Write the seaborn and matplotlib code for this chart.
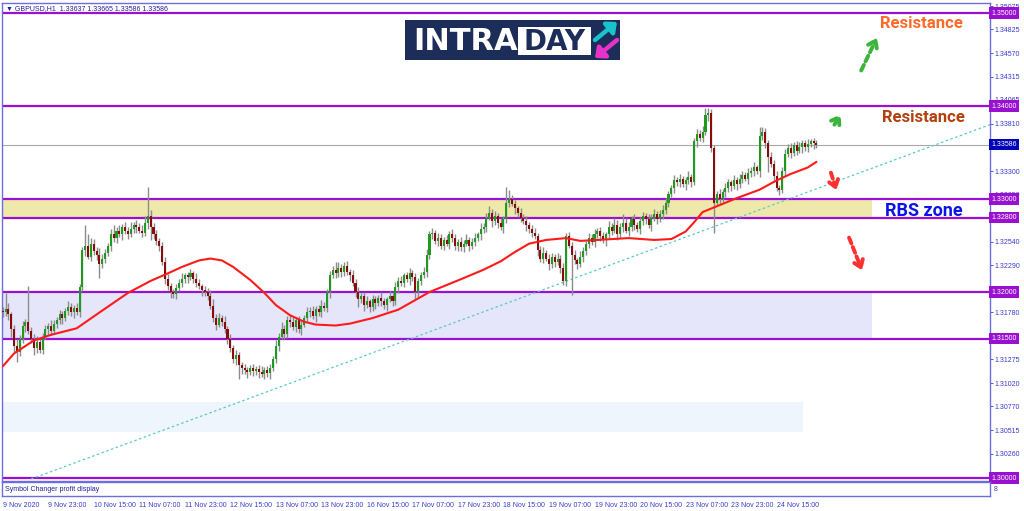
import numpy as np
import pandas as pd
import seaborn as sns
import matplotlib
matplotlib.use("Agg")
import matplotlib.pyplot as plt
import matplotlib.transforms as mtransforms
from matplotlib.patches import Rectangle

# ---------------- data (GBPUSD H1, 9 Nov 07:00 -> 25 Nov 05:00) ----------------
first_open = 1.3180
closes = [
    1.3178, 1.3182, 1.3176, 1.3160, 1.3142, 1.3135, 1.3150, 1.3163, 1.3168, 1.3158, 1.3150, 1.3140, 1.3146, 1.3138, 1.3152, 1.3160, 1.3164, 1.3158, 1.3166, 1.3170,
    1.3176, 1.3172, 1.3180, 1.3184, 1.3178, 1.3183, 1.3178, 1.3205, 1.3245, 1.3250, 1.3238, 1.3252, 1.3244, 1.3240, 1.3230, 1.3236, 1.3242, 1.3250, 1.3262, 1.3258,
    1.3266, 1.3262, 1.3270, 1.3266, 1.3262, 1.3268, 1.3272, 1.3270, 1.3266, 1.3264, 1.3274, 1.3282, 1.3270, 1.3262, 1.3255, 1.3250, 1.3232, 1.3214, 1.3206, 1.3200,
    1.3198, 1.3204, 1.3210, 1.3214, 1.3218, 1.3216, 1.3220, 1.3214, 1.3210, 1.3206, 1.3202, 1.3200, 1.3196, 1.3185, 1.3172, 1.3165, 1.3172, 1.3168, 1.3160, 1.3150,
    1.3140, 1.3128, 1.3132, 1.3122, 1.3118, 1.3116, 1.3114, 1.3118, 1.3115, 1.3117, 1.3114, 1.3112, 1.3116, 1.3113, 1.3118, 1.3128, 1.3142, 1.3152, 1.3160, 1.3155,
    1.3170, 1.3168, 1.3162, 1.3170, 1.3160, 1.3165, 1.3172, 1.3178, 1.3180, 1.3174, 1.3182, 1.3178, 1.3185, 1.3183, 1.3200, 1.3218, 1.3224, 1.3220, 1.3226, 1.3222,
    1.3228, 1.3222, 1.3218, 1.3210, 1.3200, 1.3192, 1.3196, 1.3186, 1.3190, 1.3184, 1.3192, 1.3188, 1.3194, 1.3190, 1.3186, 1.3192, 1.3196, 1.3190, 1.3205, 1.3212,
    1.3210, 1.3218, 1.3214, 1.3220, 1.3216, 1.3200, 1.3212, 1.3218, 1.3222, 1.3240, 1.3262, 1.3264, 1.3255, 1.3258, 1.3250, 1.3256, 1.3252, 1.3262, 1.3258, 1.3250,
    1.3254, 1.3248, 1.3252, 1.3256, 1.3250, 1.3254, 1.3258, 1.3262, 1.3268, 1.3270, 1.3280, 1.3285, 1.3276, 1.3282, 1.3274, 1.3270, 1.3278, 1.3296, 1.3300, 1.3295,
    1.3290, 1.3285, 1.3280, 1.3276, 1.3272, 1.3268, 1.3264, 1.3260, 1.3245, 1.3236, 1.3242, 1.3236, 1.3230, 1.3238, 1.3232, 1.3236, 1.3226, 1.3212, 1.3260, 1.3250,
    1.3240, 1.3234, 1.3230, 1.3238, 1.3244, 1.3252, 1.3258, 1.3254, 1.3262, 1.3266, 1.3260, 1.3256, 1.3262, 1.3270, 1.3266, 1.3272, 1.3262, 1.3270, 1.3274, 1.3266,
    1.3270, 1.3278, 1.3272, 1.3268, 1.3276, 1.3282, 1.3278, 1.3272, 1.3280, 1.3284, 1.3278, 1.3284, 1.3288, 1.3296, 1.3305, 1.3312, 1.3320, 1.3318, 1.3322, 1.3316,
    1.3320, 1.3324, 1.3318, 1.3362, 1.3370, 1.3366, 1.3372, 1.3390, 1.3392, 1.3355, 1.3296, 1.3305, 1.3300, 1.3308, 1.3312, 1.3318, 1.3314, 1.3320, 1.3316, 1.3322,
    1.3326, 1.3322, 1.3328, 1.3330, 1.3334, 1.3330, 1.3368, 1.3372, 1.3360, 1.3345, 1.3338, 1.3325, 1.3312, 1.3310, 1.3330, 1.3348, 1.3355, 1.3350, 1.3358, 1.3352,
    1.3356, 1.3360, 1.3356, 1.3359, 1.3362, 1.3360, 1.33586,
]
# wick lengths above / below the body, in pips
wick_up_pips = [
    4, 17, 6, 3, 5, 8, 4, 6, 3, 38, 4, 5, 7, 3, 4, 5, 3, 6, 4, 3,
    5, 4, 3, 6, 4, 3, 5, 4, 3, 22, 12, 6, 5, 4, 7, 5, 4, 3, 6, 10,
    4, 6, 3, 5, 4, 7, 3, 5, 4, 6, 8, 31, 6, 4, 5, 3, 4, 6, 5, 4,
    3, 5, 4, 6, 3, 4, 5, 3, 6, 4, 3, 5, 4, 6, 8, 4, 5, 3, 6, 4,
    5, 3, 6, 4, 3, 5, 3, 4, 5, 3, 4, 6, 3, 4, 5, 3, 6, 4, 8, 5,
    4, 5, 6, 3, 4, 5, 3, 6, 4, 5, 3, 4, 6, 4, 3, 5, 4, 8, 6, 4,
    4, 5, 3, 6, 4, 5, 3, 4, 6, 3, 5, 4, 3, 6, 4, 3, 5, 4, 6, 4,
    5, 3, 4, 6, 4, 5, 3, 4, 5, 6, 4, 5, 3, 6, 4, 3, 5, 4, 6, 4,
    3, 5, 4, 6, 3, 4, 5, 3, 6, 4, 5, 8, 4, 5, 3, 6, 4, 17, 10, 4,
    4, 3, 5, 4, 6, 3, 4, 5, 3, 4, 6, 3, 5, 4, 3, 6, 4, 5, 3, 5,
    4, 5, 3, 6, 4, 3, 5, 4, 6, 3, 4, 5, 3, 6, 4, 8, 5, 4, 10, 6,
    5, 4, 6, 3, 5, 4, 3, 6, 4, 5, 3, 4, 6, 5, 4, 3, 6, 4, 5, 3,
    4, 6, 3, 4, 5, 4, 6, 8, 6, 5, 3, 4, 6, 3, 5, 4, 3, 6, 4, 5,
    4, 3, 5, 4, 6, 3, 9, 5, 4, 3, 6, 4, 5, 3, 4, 6, 4, 5, 3, 4,
    5, 3, 4, 6, 3, 4, 3,
]
wick_dn_pips = [
    5, 4, 6, 8, 6, 10, 4, 5, 6, 3, 5, 8, 6, 4, 5, 3, 6, 4, 3, 5,
    4, 6, 3, 5, 4, 6, 3, 5, 4, 6, 3, 5, 4, 6, 15, 4, 5, 3, 6, 4,
    5, 3, 6, 4, 5, 3, 4, 6, 3, 5, 4, 6, 14, 5, 4, 6, 3, 5, 4, 6,
    4, 6, 3, 5, 4, 6, 3, 4, 5, 3, 6, 4, 5, 3, 4, 6, 3, 5, 4, 6,
    5, 4, 6, 16, 6, 4, 6, 3, 5, 4, 6, 3, 5, 4, 6, 3, 4, 5, 3, 6,
    4, 6, 3, 5, 4, 6, 3, 4, 5, 3, 6, 4, 5, 3, 4, 6, 3, 5, 4, 6,
    5, 4, 6, 3, 5, 8, 4, 6, 3, 5, 4, 6, 3, 5, 4, 6, 3, 5, 4, 6,
    4, 5, 3, 6, 4, 8, 5, 4, 3, 6, 4, 5, 3, 6, 4, 5, 3, 6, 4, 5,
    6, 4, 5, 3, 6, 4, 5, 3, 6, 4, 5, 3, 6, 4, 5, 3, 6, 4, 5, 3,
    6, 4, 5, 3, 6, 4, 5, 3, 6, 4, 5, 3, 6, 4, 5, 3, 6, 4, 5, 3,
    43, 4, 5, 3, 6, 4, 5, 3, 6, 4, 5, 3, 6, 4, 5, 3, 6, 4, 5, 3,
    6, 4, 5, 3, 6, 4, 5, 3, 6, 4, 5, 3, 6, 4, 5, 3, 6, 4, 5, 3,
    6, 4, 5, 3, 6, 4, 5, 3, 6, 4, 32, 4, 5, 3, 6, 4, 5, 3, 6, 4,
    5, 3, 6, 4, 5, 3, 6, 4, 5, 16, 4, 5, 3, 6, 4, 5, 3, 6, 4, 5,
    3, 6, 4, 5, 3, 6, 4,
]

# red moving average, read at a number of bars
ma_bars = [0, 4, 11, 17, 26, 34, 44, 52, 58, 63, 69, 73, 77, 81, 87, 92, 96, 101, 106, 110,
           117, 122, 130, 139, 150, 162, 169, 175, 180, 185, 191, 198, 203, 209, 220, 229, 235, 240, 243,
           246, 250, 258, 266, 272, 277, 283, 286]
ma_values = [1.3120, 1.3134, 1.3148, 1.3154, 1.3161, 1.3178, 1.3199, 1.3212, 1.3220, 1.3227,
             1.3234, 1.3236, 1.3234, 1.3227, 1.3213, 1.3199, 1.3186, 1.3175, 1.3168, 1.3165,
             1.3164, 1.3166, 1.3172, 1.3181, 1.3200, 1.3215, 1.3224, 1.3233, 1.3243, 1.3252,
             1.3256, 1.3258, 1.3255, 1.3256, 1.3258, 1.3256, 1.3257, 1.3265, 1.3275,
             1.3286, 1.3291, 1.3301, 1.3310, 1.3320, 1.3327, 1.3334, 1.3340]

trend_bars = [10, 347]
trend_prices = [1.2999, 1.3380]

level_prices = [1.3500, 1.3400, 1.3300, 1.3280, 1.3200, 1.3150, 1.3000]
current_price = 1.33586
axis_ticks = [1.35075, 1.34825, 1.34570, 1.34315, 1.34065, 1.33810, 1.33300, 1.33050,
              1.32540, 1.32290, 1.31780, 1.31275, 1.31020, 1.30770, 1.30515, 1.30260]
time_ticks = list(range(0, 273, 16))
time_labels = ["9 Nov 2020", "9 Nov 23:00", "10 Nov 15:00", "11 Nov 07:00", "11 Nov 23:00", "12 Nov 15:00",
               "13 Nov 07:00", "13 Nov 23:00", "16 Nov 15:00", "17 Nov 07:00", "17 Nov 23:00", "18 Nov 15:00",
               "19 Nov 07:00", "19 Nov 23:00", "20 Nov 15:00", "23 Nov 07:00", "23 Nov 23:00", "24 Nov 15:00"]

# ---------------- build OHLC ----------------
df = pd.DataFrame({"close": closes})
df["open"] = [first_open] + closes[:-1]
df["high"] = df[["open", "close"]].max(axis=1) + np.array(wick_up_pips) / 10000
df["low"] = df[["open", "close"]].min(axis=1) - np.array(wick_dn_pips) / 10000
df["bar"] = np.arange(len(df))

sns.set_theme(style="white")
plt.rcParams["font.family"] = ["Liberation Sans", "DejaVu Sans"]

axis_blue = "#3A3AD0"
purple = "#9A10D0"

fig = plt.figure(figsize=(10.24, 5.11), dpi=100)
ax = fig.add_axes([2 / 1024, 30 / 511, 988 / 1024, 478 / 511])
sub = fig.add_axes([2 / 1024, 15 / 511, 988 / 1024, 14 / 511])

# zones
ax.fill_between([-0.25, 305.6], 1.3280, 1.3300, color="#EEE8AA", lw=0, zorder=0)
ax.fill_between([-0.25, 305.6], 1.3150, 1.3200, color="#E6E6FA", lw=0, zorder=0)
ax.fill_between([0, 281.3], 1.30495, 1.30817, color="#EEF5FC", lw=0, zorder=0)

for p in level_prices:
    ax.axhline(p, color=purple, lw=1.6, zorder=2)
ax.axhline(current_price, color="#A8A8A8", lw=0.8, zorder=1)

sns.lineplot(x=trend_bars, y=trend_prices, ax=ax, color="#5CC8C8", lw=0.9,
             linestyle=(0, (2, 2)), zorder=2)

# candles
ax.vlines(df["bar"], df["low"], df["high"], color="#8C8C8C", lw=1.0, zorder=3)
bull = df["close"] >= df["open"]
body = (df["close"] - df["open"]).abs().clip(lower=0.00004)
ax.bar(df["bar"], body, bottom=df[["open", "close"]].min(axis=1), width=0.72,
       color=np.where(bull, "#1E9A1E", "#8B0A0A"), lw=0, zorder=4)

sns.lineplot(x=ma_bars, y=ma_values, ax=ax, color="#FF1A1A", lw=1.5, zorder=5)

ax.set_xlim(-0.25, 347)
ax.set_ylim(1.29968, 1.35108)
ax.set_xticks([])
ax.yaxis.tick_right()
ax.set_yticks(axis_ticks)
ax.set_yticklabels([f"{t:.5f}" for t in axis_ticks])
ax.tick_params(axis="y", labelsize=5, colors=axis_blue, length=2, pad=1, width=0.6)
ax.set_xlabel("")
ax.set_ylabel("")
for s in ax.spines.values():
    s.set_color("#6C6CE0")
    s.set_linewidth(1)

blend = mtransforms.blended_transform_factory(ax.transAxes, ax.transData)
for p in level_prices:
    ax.text(1.0012, p, f"{p:.5f}", transform=blend, fontsize=5, color="white", va="center", ha="left",
            bbox=dict(boxstyle="square,pad=0.3", fc=purple, ec="none"), clip_on=False, zorder=10)
ax.text(1.0012, current_price, f"{current_price:.5f}", transform=blend, fontsize=5, color="white",
        va="center", ha="left", bbox=dict(boxstyle="square,pad=0.3", fc="#0000B8", ec="none"),
        clip_on=False, zorder=10)

ax.text(0.004, 0.996, "\u25BC GBPUSD,H1  1.33637 1.33665 1.33586 1.33586", transform=ax.transAxes,
        fontsize=5, color="#20209A", va="top", ha="left")

# annotations
ax.text(322.8, 1.34892, "Resistance", fontsize=12, fontweight="bold", color="#FF6A2B",
        ha="center", va="center", family="Roboto")
ax.text(323.5, 1.33882, "Resistance", fontsize=12, fontweight="bold", color="#B5400D",
        ha="center", va="center", family="Roboto")
ax.text(323.8, 1.32871, "RBS zone", fontsize=13, fontweight="bold", color="#0A14E6",
        ha="center", va="center", family="Roboto")

arrow_kw = dict(arrowstyle="->,head_length=0.5,head_width=0.35", lw=2.8, linestyle=(0, (1.6, 1.0)),
                mutation_scale=10)
ax.annotate("", xy=(307.7, 1.34763), xytext=(301.3, 1.34355), arrowprops=dict(color="#3CB43C", **arrow_kw))
ax.annotate("", xy=(295.0, 1.33935), xytext=(291.8, 1.33774), arrowprops=dict(color="#3CB43C", **arrow_kw))
ax.annotate("", xy=(293.3, 1.33065), xytext=(290.8, 1.33312), arrowprops=dict(color="#FF3030", **arrow_kw))
ax.annotate("", xy=(302.4, 1.32204), xytext=(297.1, 1.32613), arrowprops=dict(color="#FF3030", **arrow_kw))

# sub window with the time axis
sub.set_xlim(-0.25, 347)
sub.set_ylim(0, 1)
sub.set_yticks([])
sub.set_xticks(time_ticks)
sub.set_xticklabels(time_labels)
for lab in sub.get_xticklabels():
    lab.set_horizontalalignment("left")
sub.tick_params(axis="x", labelsize=5, colors=axis_blue, length=2.5, pad=1.5, width=0.6, direction="out")
for s in sub.spines.values():
    s.set_color("#6C6CE0")
    s.set_linewidth(1)
sub.text(0.003, 0.5, "Symbol Changer profit display", transform=sub.transAxes, fontsize=5,
         color="#20209A", va="center", ha="left")
sub.text(1.004, 0.5, "8", transform=sub.transAxes, fontsize=5, color=axis_blue, va="center", ha="left")

# logo
lax = fig.add_axes([405 / 1024, 1 - 60 / 511, 215 / 1024, 40 / 511])
lax.set_xlim(405, 620)
lax.set_ylim(60, 20)
lax.axis("off")
lax.add_patch(Rectangle((405, 20), 215, 40, fc="#1C2D5A", ec="none"))
lax.add_patch(Rectangle((518, 27), 73, 28, fc="white", ec="none"))
lax.text(413, 41.5, "INTRA", color="white", fontsize=22, fontweight="bold", ha="left", va="center",
         family="DejaVu Sans")
lax.text(554.5, 41.5, "DAY", color="#1C2D5A", fontsize=20, fontweight="bold", ha="center", va="center",
         family="DejaVu Sans")
lax.annotate("", xy=(617, 22), xytext=(595, 40),
             arrowprops=dict(arrowstyle="-|>,head_length=0.5,head_width=0.45", lw=3.2, color="#19C3CC",
                             mutation_scale=10, shrinkA=0, shrinkB=0))
lax.annotate("", xy=(595, 58), xytext=(617, 40),
             arrowprops=dict(arrowstyle="-|>,head_length=0.5,head_width=0.45", lw=3.2, color="#E632C8",
                             mutation_scale=10, shrinkA=0, shrinkB=0))

fig.savefig("out.png", dpi=100)
